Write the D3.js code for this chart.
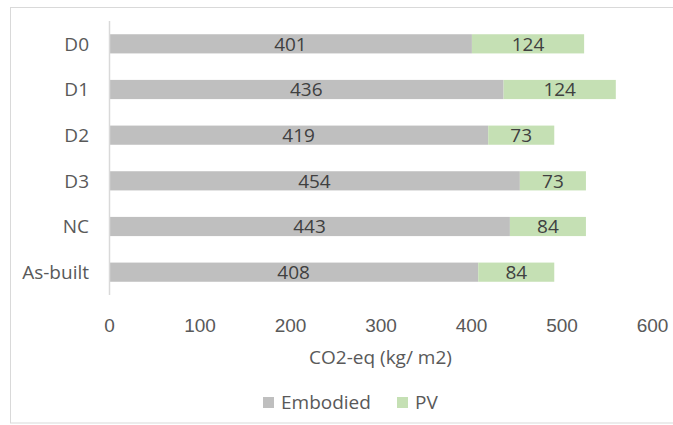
<!DOCTYPE html>
<html>
<head>
<meta charset="utf-8">
<script src="https://cdn.jsdelivr.net/npm/d3@7"></script>
<style>
  html, body { margin: 0; padding: 0; background: #fff; }
  svg { display: block; font-family: "Open Sans", "Liberation Sans", sans-serif; }
</style>
</head>
<body>
<svg id="chart" width="673" height="425"></svg>
<script>
// Design variants and their carbon components (kg CO2-eq per m2)
const categories = ["D0", "D1", "D2", "D3", "NC", "As-built"];
const embodied = [401, 436, 419, 454, 443, 408];
const pv = [124, 124, 73, 73, 84, 84];
const seriesNames = ["Embodied", "PV"];
const seriesColors = ["#bfbfbf", "#c5e0b4"];
const xTicks = [0, 100, 200, 300, 400, 500, 600];
const xTitle = "CO2-eq (kg/ m2)";

const svg = d3.select("#chart");
const W = 673, H = 425;
const margin = { left: 109, right: 21, top: 21, bottom: 130 };
const FS = 19;

// outer chart frame
svg.append("rect")
  .attr("x", 10.5).attr("y", 7.5)
  .attr("width", 680).attr("height", 415.5)
  .attr("fill", "#fff").attr("stroke", "#d9d9d9").attr("stroke-width", 1);

const x = d3.scaleLinear().domain([0, 600]).range([margin.left, W - margin.right]);
const y = d3.scaleBand().domain(categories).range([margin.top, H - margin.bottom]).paddingInner(0.58).paddingOuter(0.29);

const rows = categories.map((c, i) => ({ cat: c, Embodied: embodied[i], PV: pv[i] }));
const stack = d3.stack().keys(seriesNames)(rows);

const g = svg.append("g");
stack.forEach((layer, li) => {
  g.selectAll(null).data(layer).enter().append("rect")
    .attr("x", d => x(d[0]))
    .attr("y", d => y(d.data.cat))
    .attr("width", d => x(d[1]) - x(d[0]))
    .attr("height", y.bandwidth())
    .attr("fill", seriesColors[li]);
  g.selectAll(null).data(layer).enter().append("text")
    .attr("x", d => (x(d[0]) + x(d[1])) / 2)
    .attr("y", d => y(d.data.cat) + y.bandwidth() / 2)
    .attr("dy", "0.36em")
    .attr("text-anchor", "middle")
    .attr("font-size", FS)
    .attr("fill", "#404040")
    .text(d => d[1] - d[0]);
});

// vertical category axis line
svg.append("line")
  .attr("x1", x(0) + 0.5).attr("x2", x(0) + 0.5)
  .attr("y1", margin.top).attr("y2", H - margin.bottom)
  .attr("stroke", "#d9d9d9").attr("stroke-width", 1.5);

// category labels
svg.selectAll(null).data(categories).enter().append("text")
  .attr("x", 89)
  .attr("y", d => y(d) + y.bandwidth() / 2)
  .attr("dy", "0.36em")
  .attr("text-anchor", "end")
  .attr("font-size", FS)
  .attr("fill", "#595959")
  .text(d => d);

// value axis ticks (no line)
const xAxis = d3.axisBottom(x).tickValues(xTicks).tickSize(0).tickPadding(0);
const ax = svg.append("g").attr("transform", `translate(0, 325)`).call(xAxis);
ax.select(".domain").remove();
ax.selectAll("text").attr("font-size", FS).attr("fill", "#595959")
  .attr("font-family", null).attr("dy", "0.36em").attr("y", 0);

// axis title
svg.append("text")
  .attr("x", (x(0) + x(600)) / 2).attr("y", 357).attr("dy", "0.36em")
  .attr("text-anchor", "middle").attr("font-size", FS).attr("fill", "#595959")
  .text(xTitle);

// legend
const legendItems = [
  { name: seriesNames[0], color: seriesColors[0], x: 263 },
  { name: seriesNames[1], color: seriesColors[1], x: 397 }
];
const lg = svg.append("g");
legendItems.forEach(it => {
  lg.append("rect").attr("x", it.x).attr("y", 397).attr("width", 11).attr("height", 11).attr("fill", it.color);
  lg.append("text").attr("x", it.x + 18).attr("y", 402).attr("dy", "0.36em")
    .attr("font-size", FS).attr("fill", "#595959").text(it.name);
});
</script>
</body>
</html>
